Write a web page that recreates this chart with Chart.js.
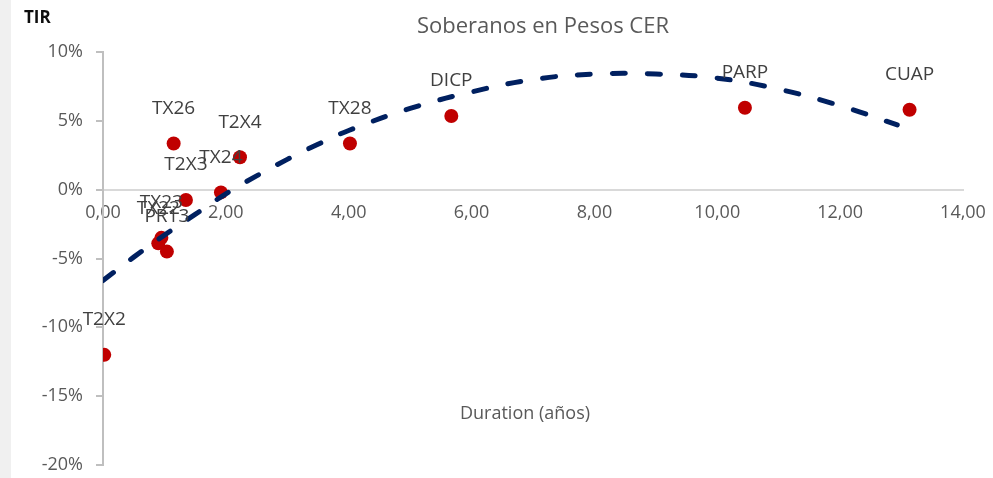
<!DOCTYPE html>
<html>
<head>
<meta charset="utf-8">
<title>Soberanos en Pesos CER</title>
<script src="https://cdn.jsdelivr.net/npm/chart.js@4.4.1/dist/chart.umd.min.js"></script>
<style>
  html, body { margin: 0; padding: 0; background: #ffffff; }
  #wrap { width: 993px; height: 478px; }
</style>
</head>
<body>
<div id="wrap"><canvas id="curva" width="993" height="478"></canvas></div>
<script>
// ---------------------------------------------------------
// Data
// ---------------------------------------------------------
const bondNames    = ['T2X2', 'TX22', 'TX23', 'PR13', 'TX26', 'T2X3', 'TX24', 'T2X4', 'TX28', 'DICP', 'PARP', 'CUAP'];
const bondDuration = [0.02, 0.90, 0.95, 1.04, 1.15, 1.35, 1.92, 2.23, 4.02, 5.67, 10.45, 13.13];
const bondTir      = [-12.0, -3.9, -3.5, -4.5, 3.35, -0.75, -0.2, 2.35, 3.35, 5.35, 5.95, 5.8];

// trendline (polynomial in the original)
const trendX = [0, 0.5, 1, 1.5, 2, 2.5, 3, 3.5, 4, 5, 6, 7, 8, 9, 10, 11, 12, 12.93];
const trendY = [-6.6, -4.9, -3.3, -1.8, -0.3, 1.0, 2.2, 3.3, 4.3, 5.9, 7.1, 8.0, 8.4, 8.4, 8.1, 7.3, 6.1, 4.7];

const xTicks = [0, 2, 4, 6, 8, 10, 12, 14];
const yTicks = [-20, -15, -10, -5, 0, 5, 10];

const FONT = "'Open Sans', 'Noto Sans', sans-serif";

// ---------------------------------------------------------
// Extra text: title, axis names, point labels
// ---------------------------------------------------------
const decorPlugin = {
  id: 'decor',
  beforeDraw(chart) {
    const ctx = chart.ctx;
    ctx.save();
    ctx.fillStyle = '#ffffff';
    ctx.fillRect(0, 0, chart.width, chart.height);
    ctx.fillStyle = '#f0f0f0';
    ctx.fillRect(0, 0, 11, chart.height);
    ctx.restore();
  },
  afterDatasetsDraw(chart) {
    const ctx = chart.ctx;
    ctx.save();
    ctx.textAlign = 'center';
    ctx.textBaseline = 'middle';

    // point labels
    ctx.font = '19px ' + FONT;
    ctx.fillStyle = '#404040';
    chart.getDatasetMeta(1).data.forEach((pt, i) => {
      ctx.fillText(bondNames[i], pt.x, pt.y - 35);
    });

    // chart title
    ctx.font = '22px ' + FONT;
    ctx.fillStyle = '#595959';
    ctx.fillText('Soberanos en Pesos CER', 543, 27);

    // x axis name (sits inside the plot)
    ctx.font = '18px ' + FONT;
    ctx.fillText('Duration (años)', 525, 414);

    // y axis name
    ctx.textAlign = 'left';
    ctx.font = 'bold 17px ' + FONT;
    ctx.fillStyle = '#0d0d0d';
    ctx.fillText('TIR', 24, 18);
    ctx.restore();
  }
};

const ctx = document.getElementById('curva');

new Chart(ctx, {
  data: {
    datasets: [
      {
        type: 'line',
        label: 'Tendencia',
        data: trendX.map((x, i) => ({ x: x, y: trendY[i] })),
        borderColor: '#002060',
        borderWidth: 5,
        borderDash: [13, 22],
        borderCapStyle: 'round',
        tension: 0.4,
        pointRadius: 0,
        fill: false,
        order: 1
      },
      {
        type: 'scatter',
        label: 'Bonos CER',
        data: bondDuration.map((x, i) => ({ x: x, y: bondTir[i] })),
        backgroundColor: '#c00000',
        borderWidth: 0,
        pointRadius: 7,
        order: 2
      }
    ]
  },
  options: {
    responsive: false,
    animation: false,
    devicePixelRatio: 1,
    layout: { padding: { top: 52, bottom: 13, left: 0, right: 30 } },
    plugins: {
      legend: { display: false },
      tooltip: { enabled: false }
    },
    scales: {
      x: {
        type: 'linear',
        position: { y: 0 },
        min: 0,
        max: 14,
        afterBuildTicks: (scale) => { scale.ticks = xTicks.map(v => ({ value: v })); },
        afterFit: (scale) => { scale.paddingLeft = 0; scale.paddingRight = 0; },
        grid: { drawOnChartArea: false, drawTicks: false },
        border: { display: true, color: '#d9d9d9', width: 2 },
        ticks: {
          padding: 12,
          color: '#595959',
          font: { family: FONT, size: 18 },
          callback: (v) => Number(v).toFixed(2).replace('.', ',')
        }
      },
      y: {
        type: 'linear',
        position: 'left',
        min: -20,
        max: 10,
        afterBuildTicks: (scale) => { scale.ticks = yTicks.map(v => ({ value: v })); },
        afterFit: (scale) => { scale.width = 103; scale.paddingTop = 0; scale.paddingBottom = 0; },
        grid: { drawOnChartArea: false, drawTicks: true, tickLength: 7, color: '#bfbfbf', lineWidth: 2 },
        border: { display: true, color: '#bfbfbf', width: 2 },
        ticks: {
          padding: 13,
          color: '#595959',
          font: { family: FONT, size: 18 },
          callback: (v) => v + '%'
        }
      }
    }
  },
  plugins: [decorPlugin]
});
</script>
</body>
</html>
